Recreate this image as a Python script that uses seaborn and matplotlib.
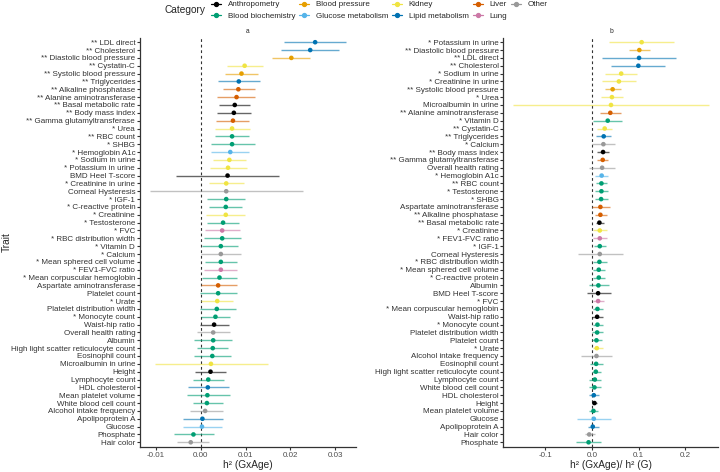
import numpy as np
import pandas as pd
import matplotlib
matplotlib.use("Agg")
import matplotlib.pyplot as plt
from matplotlib.lines import Line2D
import seaborn as sns

sns.set_theme(style="ticks")
plt.rcParams['font.family'] = ['Liberation Sans', 'DejaVu Sans']
plt.rcParams['axes.unicode_minus'] = False

# categories and colours (Okabe-Ito)
categories = ["Anthropometry", "Blood biochemistry", "Blood pressure", "Glucose metabolism",
              "Kidney", "Lipid metabolism", "Liver", "Lung", "Other"]
cat_colors = ["#000000", "#009E73", "#E69F00", "#56B4E9",
              "#F0E442", "#0072B2", "#D55E00", "#CC79A7", "#999999"]
pal = dict(zip(categories, cat_colors))

# panel a: h2 (GxAge), ordered top to bottom
traits_a = ["** LDL direct", "** Cholesterol", "** Diastolic blood pressure", "** Cystatin-C",
            "** Systolic blood pressure", "** Triglycerides", "** Alkaline phosphatase",
            "** Alanine aminotransferase", "** Basal metabolic rate", "** Body mass index",
            "** Gamma glutamyltransferase", "* Urea", "** RBC count", "* SHBG", "* Hemoglobin A1c",
            "* Sodium in urine", "* Potassium in urine", "BMD Heel T-score", "* Creatinine in urine",
            "Corneal Hysteresis", "* IGF-1", "* C-reactive protein", "* Creatinine", "* Testosterone",
            "* FVC", "* RBC distribution width", "* Vitamin D", "* Calcium", "* Mean sphered cell volume",
            "* FEV1-FVC ratio", "* Mean corpuscular hemoglobin", "Aspartate aminotransferase",
            "Platelet count", "* Urate", "Platelet distribution width", "* Monocyte count",
            "Waist-hip ratio", "Overall health rating", "Albumin", "High light scatter reticulocyte count",
            "Eosinophil count", "Microalbumin in urine", "Height", "Lymphocyte count", "HDL cholesterol",
            "Mean platelet volume", "White blood cell count", "Alcohol intake frequency",
            "Apolipoprotein A", "Glucose", "Phosphate", "Hair color"]
cats_a = ["Lipid metabolism", "Lipid metabolism", "Blood pressure", "Kidney",
          "Blood pressure", "Lipid metabolism", "Liver",
          "Liver", "Anthropometry", "Anthropometry",
          "Liver", "Kidney", "Blood biochemistry", "Blood biochemistry", "Glucose metabolism",
          "Kidney", "Kidney", "Anthropometry", "Kidney",
          "Other", "Blood biochemistry", "Blood biochemistry", "Kidney", "Blood biochemistry",
          "Lung", "Blood biochemistry", "Blood biochemistry", "Other", "Blood biochemistry",
          "Lung", "Blood biochemistry", "Liver",
          "Blood biochemistry", "Kidney", "Blood biochemistry", "Blood biochemistry",
          "Anthropometry", "Other", "Blood biochemistry", "Blood biochemistry",
          "Blood biochemistry", "Kidney", "Anthropometry", "Blood biochemistry", "Lipid metabolism",
          "Blood biochemistry", "Blood biochemistry", "Other",
          "Lipid metabolism", "Glucose metabolism", "Blood biochemistry", "Other"]
est_a = [0.0255, 0.0244, 0.0202, 0.0098, 0.0091, 0.0085, 0.0084, 0.0080, 0.0076, 0.0074,
         0.0072, 0.0070, 0.0070, 0.0070, 0.0066, 0.0064, 0.0061, 0.0060, 0.0057, 0.0057,
         0.0057, 0.0056, 0.0056, 0.0050, 0.0048, 0.0048, 0.0045, 0.0045, 0.0045, 0.0045,
         0.0042, 0.0039, 0.0039, 0.0037, 0.0036, 0.0033, 0.0030, 0.0028, 0.0028, 0.0027,
         0.0026, 0.0023, 0.0022, 0.0017, 0.0016, 0.0015, 0.0014, 0.0010, 0.0004, 0.0003,
         -0.0016, -0.0022]
lo_a = [0.0185, 0.0178, 0.0160, 0.0058, 0.0055, 0.0038, 0.0050, 0.0037, 0.0041, 0.0037,
        0.0035, 0.0032, 0.0033, 0.0023, 0.0024, 0.0028, 0.0021, -0.0055, 0.0019, -0.0113,
        0.0014, 0.0018, 0.0012, 0.0014, 0.0010, 0.0007, 0.0004, 0.0001, 0.0010, 0.0007,
        0.0003, 0.0000, -0.0001, 0.0001, -0.0002, 0.0000, -0.0002, -0.0007, -0.0014, -0.0007,
        -0.0014, -0.0102, -0.0013, -0.0018, -0.0027, -0.0031, -0.0018, -0.0024, -0.0040, -0.0040,
        -0.0059, -0.0053]
hi_a = [0.0324, 0.0308, 0.0244, 0.0138, 0.0128, 0.0133, 0.0122, 0.0122, 0.0110, 0.0112,
        0.0108, 0.0111, 0.0108, 0.0121, 0.0108, 0.0102, 0.0103, 0.0175, 0.0096, 0.0228,
        0.0099, 0.0093, 0.0098, 0.0085, 0.0087, 0.0089, 0.0084, 0.0090, 0.0080, 0.0082,
        0.0081, 0.0082, 0.0081, 0.0072, 0.0079, 0.0066, 0.0063, 0.0065, 0.0070, 0.0060,
        0.0067, 0.0150, 0.0057, 0.0052, 0.0063, 0.0065, 0.0049, 0.0049, 0.0049, 0.0048,
        0.0029, 0.0018]

# panel b: h2 (GxAge) / h2 (G), ordered top to bottom
traits_b = ["* Potassium in urine", "** Diastolic blood pressure", "** LDL direct", "** Cholesterol",
            "* Sodium in urine", "* Creatinine in urine", "** Systolic blood pressure", "* Urea",
            "Microalbumin in urine", "** Alanine aminotransferase", "* Vitamin D", "** Cystatin-C",
            "** Triglycerides", "* Calcium", "** Body mass index", "** Gamma glutamyltransferase",
            "Overall health rating", "* Hemoglobin A1c", "** RBC count", "* Testosterone", "* SHBG",
            "Aspartate aminotransferase", "** Alkaline phosphatase", "** Basal metabolic rate",
            "* Creatinine", "* FEV1-FVC ratio", "* IGF-1", "Corneal Hysteresis",
            "* RBC distribution width", "* Mean sphered cell volume", "* C-reactive protein",
            "Albumin", "BMD Heel T-score", "* FVC", "* Mean corpuscular hemoglobin", "Waist-hip ratio",
            "* Monocyte count", "Platelet distribution width", "Platelet count", "* Urate",
            "Alcohol intake frequency", "Eosinophil count", "High light scatter reticulocyte count",
            "Lymphocyte count", "White blood cell count", "HDL cholesterol", "Height",
            "Mean platelet volume", "Glucose", "Apolipoprotein A", "Hair color", "Phosphate"]
est_b = [0.1066, 0.1016, 0.1010, 0.0995, 0.0628, 0.0579, 0.0445, 0.0430, 0.0410, 0.0395,
         0.0340, 0.0275, 0.0254, 0.0247, 0.0240, 0.0233, 0.0220, 0.0210, 0.0205, 0.0205,
         0.0198, 0.0183, 0.0183, 0.0162, 0.0170, 0.0170, 0.0170, 0.0170, 0.0162, 0.0148,
         0.0148, 0.0140, 0.0134, 0.0134, 0.0120, 0.0113, 0.0120, 0.0113, 0.0099, 0.0106,
         0.0099, 0.0092, 0.0085, 0.0064, 0.0056, 0.0042, 0.0056, 0.0035, 0.0042, 0.0020,
         -0.0056, -0.0070]
lo_b = [0.0360, 0.0800, 0.0210, 0.0416, 0.0275, 0.0210, 0.0275, 0.0198, -0.1680, 0.0183,
        0.0035, 0.0120, 0.0099, 0.0007, 0.0120, 0.0106, -0.0050, 0.0078, 0.0092, 0.0070,
        0.0064, 0.0000, 0.0078, 0.0092, 0.0035, 0.0020, 0.0042, -0.0296, 0.0020, 0.0035,
        0.0020, -0.0056, -0.0106, 0.0035, 0.0020, 0.0000, 0.0020, 0.0000, 0.0007, 0.0020,
        -0.0226, -0.0042, 0.0000, -0.0056, -0.0050, -0.0056, 0.0007, -0.0050, -0.0325, -0.0085,
        -0.0148, -0.0332]
hi_b = [0.1760, 0.1235, 0.1810, 0.1570, 0.0974, 0.0946, 0.0620, 0.0670, 0.2500, 0.0614,
        0.0656, 0.0430, 0.0416, 0.0490, 0.0360, 0.0353, 0.0490, 0.0346, 0.0325, 0.0346,
        0.0339, 0.0380, 0.0318, 0.0270, 0.0318, 0.0325, 0.0303, 0.0663, 0.0325, 0.0280,
        0.0280, 0.0367, 0.0410, 0.0260, 0.0240, 0.0247, 0.0233, 0.0240, 0.0210, 0.0233,
        0.0430, 0.0247, 0.0198, 0.0205, 0.0198, 0.0155, 0.0106, 0.0134, 0.0410, 0.0148,
        0.0064, 0.0190]

trait_cat = dict(zip(traits_a, cats_a))
df_a = pd.DataFrame({"trait": traits_a, "cat": cats_a, "est": est_a, "lo": lo_a, "hi": hi_a})
df_b = pd.DataFrame({"trait": traits_b, "est": est_b, "lo": lo_b, "hi": hi_b})
df_b["cat"] = df_b["trait"].map(trait_cat)

W, H = 720, 472
fig = plt.figure(figsize=(7.2, 4.72), dpi=100)
ax_a = fig.add_axes([140 / W, 1 - 447 / H, 216 / W, 409.5 / H])
ax_b = fig.add_axes([503.5 / W, 1 - 447 / H, 215 / W, 409.5 / H])

tick_fs = 5.8
title_fs = 7.3
for ax, df, title, xlab in [(ax_a, df_a, "a", "h\u00b2 (GxAge)"),
                            (ax_b, df_b, "b", "h\u00b2 (GxAge)/ h\u00b2 (G)")]:
    n = len(df)
    df = df.assign(y=np.arange(n)[::-1])
    ax.axvline(0, color="#333333", lw=0.8, ls=(0, (2.5, 2.5)), zorder=1)
    ax.hlines(df["y"], df["lo"], df["hi"], colors=df["cat"].map(pal), lw=1.0, alpha=0.6, zorder=2)
    sns.scatterplot(data=df, x="est", y="y", hue="cat", palette=pal, hue_order=categories,
                    s=11, linewidth=0, legend=False, ax=ax, zorder=3)
    ax.set_yticks(df["y"])
    ax.set_yticklabels(df["trait"], fontsize=tick_fs, color="#4D4D4D")
    ax.set_ylim(-0.6, n - 1 + 0.6)
    ax.set_xlabel(xlab, fontsize=title_fs, labelpad=0.8)
    ax.set_ylabel("")
    ax.set_title(title, fontsize=4.8, pad=3)
    ax.tick_params(axis="both", length=2, width=0.8, colors="#333333", pad=1.5)
    ax.tick_params(axis="x", labelsize=tick_fs, labelcolor="#4D4D4D")
    for side in ["left", "bottom"]:
        ax.spines[side].set_linewidth(0.9)
        ax.spines[side].set_color("#333333")
    sns.despine(ax=ax)

ax_a.set_xlim(-0.0135, 0.0346)
ax_a.set_xticks([-0.01, 0.0, 0.01, 0.02, 0.03])
ax_a.set_xticklabels(["-0.01", "0.00", "0.01", "0.02", "0.03"])
ax_b.set_xlim(-0.189, 0.271)
ax_b.set_xticks([-0.1, 0.0, 0.1, 0.2])
ax_b.set_xticklabels(["-0.1", "0.0", "0.1", "0.2"])

fig.text(7 / W, 1 - 242 / H, "Trait", rotation=90, fontsize=title_fs, va="center", ha="center")

# legend across the top
handles = [Line2D([0], [0], color=c, marker="o", markersize=2.8, lw=0.9) for c in cat_colors]
fig.legend(handles, categories, loc="upper left", bbox_to_anchor=(210.5 / W, 1.0), ncol=5,
           frameon=False, fontsize=tick_fs, handlelength=1.25, handletextpad=0.8,
           columnspacing=0.5, labelspacing=0.45, borderpad=0.1, borderaxespad=0.0)
fig.text(185 / W, 1 - 10 / H, "Category", fontsize=title_fs, ha="center", va="center")

fig.savefig("out.png", dpi=100)
